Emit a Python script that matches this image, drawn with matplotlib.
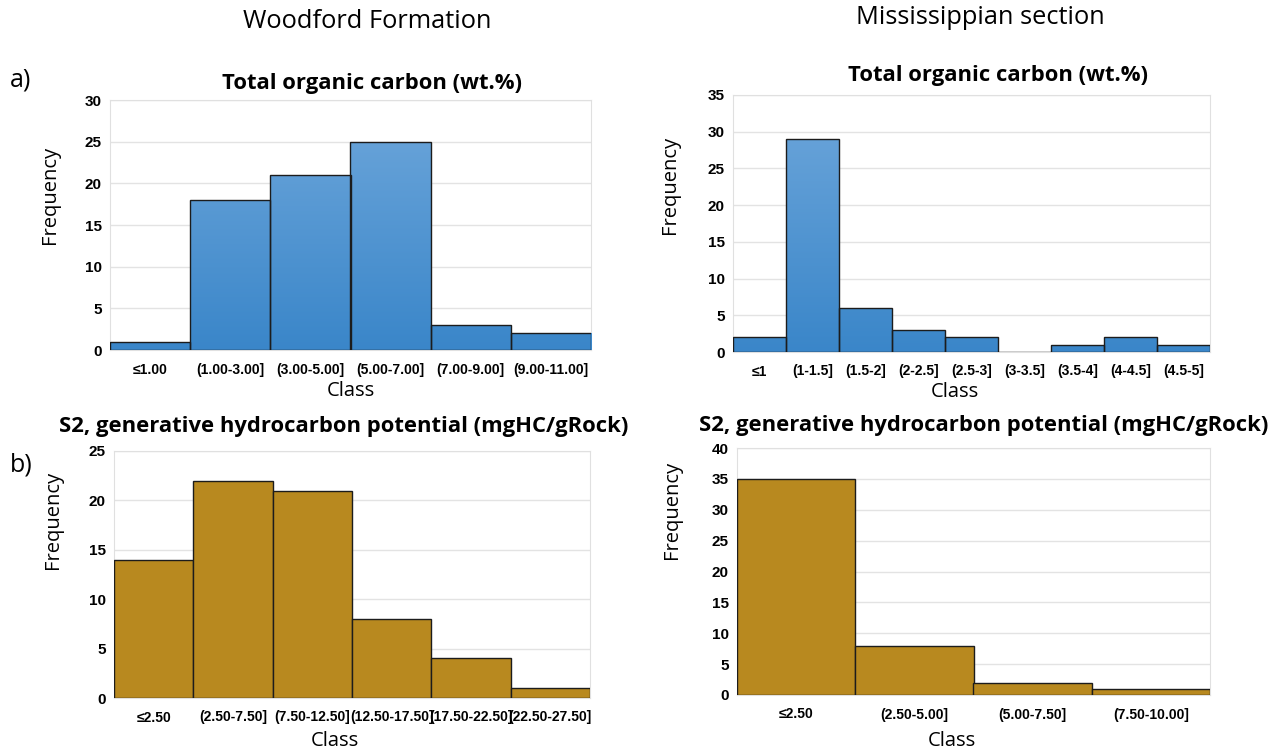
#!/usr/bin/env python3
import numpy as np
import matplotlib
matplotlib.use('Agg')
import matplotlib.pyplot as plt
from matplotlib.colors import LinearSegmentedColormap

# Woodford Formation
toc_w_classes = ['≤1.00', '(1.00-3.00]', '(3.00-5.00]', '(5.00-7.00]', '(7.00-9.00]', '(9.00-11.00]']
toc_w_freq = [1, 18, 21, 25, 3, 2]
s2_w_classes = ['≤2.50', '(2.50-7.50]', '(7.50-12.50]', '(12.50-17.50]', '(17.50-22.50]', '(22.50-27.50]']
s2_w_freq = [14, 22, 21, 8, 4, 1]

# Mississippian section
toc_m_classes = ['≤1', '(1-1.5]', '(1.5-2]', '(2-2.5]', '(2.5-3]', '(3-3.5]', '(3.5-4]', '(4-4.5]', '(4.5-5]']
toc_m_freq = [2, 29, 6, 3, 2, 0, 1, 2, 1]
s2_m_classes = ['≤2.50', '(2.50-5.00]', '(5.00-7.50]', '(7.50-10.00]']
s2_m_freq = [35, 8, 2, 1]

BLUE_TOP = '#6ea7db'
BLUE_BOT = '#3a86c9'
GOLD = '#b8891f'
EDGE = '#1c1c1c'

TICK_FONT = ['Liberation Sans Narrow', 'Liberation Sans', 'DejaVu Sans']
TEXT_FONT = ['Open Sans', 'DejaVu Sans']

W, H = 1274, 752
fig = plt.figure(figsize=(W / 100, H / 100), dpi=100)


def px_axes(x0, x1, ytop, ybot):
    return fig.add_axes([x0 / W, 1 - ybot / H, (x1 - x0) / W, (ybot - ytop) / H])


def hist_panel(ax, classes, freq, ymax, color, title, title_x, title_pad,
               ylab_xy, xlab_xy, gradient=False):
    x = np.arange(len(classes))
    bars = ax.bar(x, freq, width=1.0, color=color, edgecolor=EDGE, linewidth=1.0, zorder=3)
    if gradient:
        cmap = LinearSegmentedColormap.from_list('g', [BLUE_BOT, BLUE_TOP])
        grad = np.linspace(0, 1, 256).reshape(-1, 1)
        for b in bars:
            if b.get_height() <= 0:
                continue
            im = ax.imshow(grad, cmap=cmap, origin='lower', aspect='auto',
                           extent=[b.get_x(), b.get_x() + b.get_width(), 0, ymax],
                           zorder=3.5)
            im.set_clip_path(b)
            b.set_facecolor('none')
            b.set_zorder(4)
    ax.set_xlim(-0.5, len(classes) - 0.5)
    ax.set_ylim(0, ymax)
    ax.set_yticks(np.arange(0, ymax + 1, 5))
    ax.set_xticks(x)
    ax.set_xticklabels(classes, fontfamily=TICK_FONT, fontweight='bold', fontsize=10)
    for lab in ax.get_yticklabels():
        lab.set_fontfamily(TICK_FONT)
        lab.set_fontweight('bold')
        lab.set_fontsize(11)
    ax.tick_params(axis='x', length=0, pad=9)
    ax.tick_params(axis='y', length=0, pad=6)
    ax.grid(axis='y', color='#e3e3e3', linewidth=1.0, zorder=0)
    for s in ax.spines.values():
        s.set_color('#e0e0e0')
    ax.set_ylabel('Frequency', fontfamily=TEXT_FONT, fontsize=14.5)
    ax.yaxis.set_label_coords(*ylab_xy)
    ax.set_xlabel('Class', fontfamily=TEXT_FONT, fontsize=14.5)
    ax.xaxis.set_label_coords(*xlab_xy)
    ax.set_title(title, fontfamily=TEXT_FONT, fontweight='bold', fontsize=15.8,
                 x=title_x, pad=title_pad)


ax1 = px_axes(110, 591, 100, 350)
hist_panel(ax1, toc_w_classes, toc_w_freq, 30, BLUE_BOT, 'Total organic carbon (wt.%)',
           0.545, 8, (-0.104, 0.62), (0.5, -0.124), gradient=True)

ax2 = px_axes(733, 1210, 95, 352)
hist_panel(ax2, toc_m_classes, toc_m_freq, 35, BLUE_BOT, 'Total organic carbon (wt.%)',
           0.556, 10, (-0.111, 0.65), (0.466, -0.117), gradient=True)

ax3 = px_axes(114, 590, 451, 698)
hist_panel(ax3, s2_w_classes, s2_w_freq, 25, GOLD, 'S2, generative hydrocarbon potential (mgHC/gRock)',
           0.483, 14, (-0.107, 0.72), (0.464, -0.134))

ax4 = px_axes(737, 1210, 448, 695)
hist_panel(ax4, s2_m_classes, s2_m_freq, 40, GOLD, 'S2, generative hydrocarbon potential (mgHC/gRock)',
           0.522, 12, (-0.116, 0.75), (0.455, -0.146))

fig.text(367 / W, 1 - 22 / H, 'Woodford Formation', ha='center', va='center',
         fontfamily=TEXT_FONT, fontsize=18.3)
fig.text(980 / W, 1 - 17 / H, 'Mississippian section', ha='center', va='center',
         fontfamily=TEXT_FONT, fontsize=18.3)
fig.text(10 / W, 1 - 80 / H, 'a)', ha='left', va='center', fontfamily=TEXT_FONT, fontsize=18)
fig.text(10 / W, 1 - 465 / H, 'b)', ha='left', va='center', fontfamily=TEXT_FONT, fontsize=18)

fig.savefig('out.png', dpi=100)
